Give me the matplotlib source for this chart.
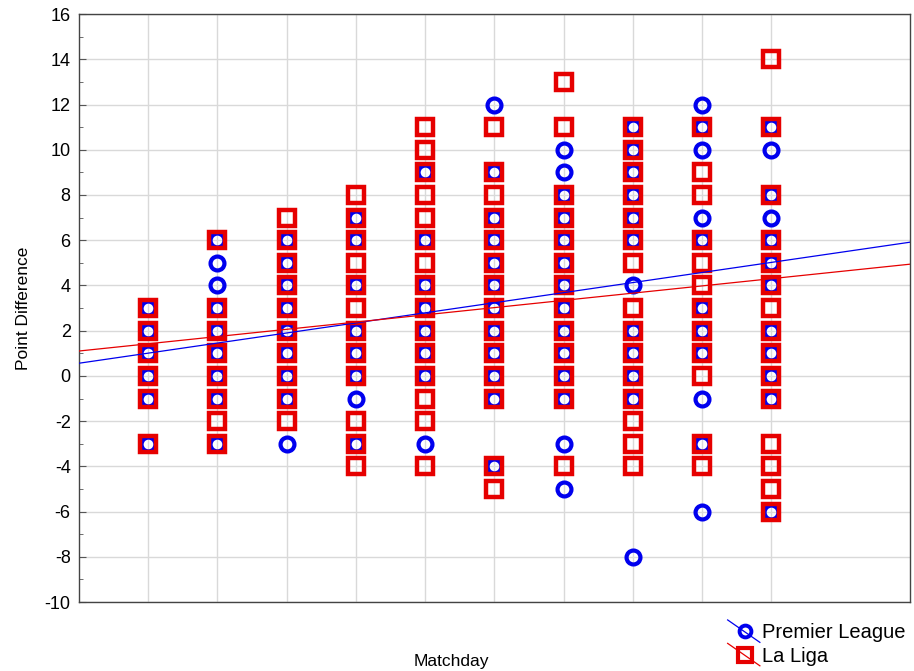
import numpy as np
import matplotlib
matplotlib.use("Agg")
import matplotlib.pyplot as plt
from matplotlib.lines import Line2D
from matplotlib.legend_handler import HandlerBase

plt.rcParams['font.family'] = ['Liberation Sans', 'DejaVu Sans']
plt.rcParams['axes.unicode_minus'] = False

matchdays = list(range(1, 11))

# Point differences per matchday
premier_league = [
    [3, 2, 1, 0, -1, -3],
    [6, 5, 4, 3, 2, 1, 0, -1, -3],
    [6, 5, 4, 3, 2, 1, 0, -1, -3],
    [7, 6, 4, 2, 1, 0, -1, -3],
    [9, 6, 4, 3, 2, 1, 0, -3],
    [12, 9, 7, 6, 5, 4, 3, 2, 1, 0, -1, -4],
    [10, 9, 8, 7, 6, 5, 4, 3, 2, 1, 0, -1, -3, -5],
    [11, 10, 9, 8, 7, 6, 4, 2, 1, 0, -1, -8],
    [12, 11, 10, 7, 6, 3, 2, 1, -1, -3, -6],
    [11, 10, 8, 7, 6, 5, 4, 2, 1, 0, -1, -6],
]
la_liga = [
    [3, 2, 1, 0, -1, -3],
    [6, 3, 2, 1, 0, -1, -2, -3],
    [7, 6, 5, 4, 3, 2, 1, 0, -1, -2],
    [8, 7, 6, 5, 4, 3, 2, 1, 0, -2, -3, -4],
    [11, 10, 9, 8, 7, 6, 5, 4, 3, 2, 1, 0, -1, -2, -4],
    [11, 9, 8, 7, 6, 5, 4, 3, 2, 1, 0, -1, -4, -5],
    [13, 11, 8, 7, 6, 5, 4, 3, 2, 1, 0, -1, -4],
    [11, 10, 9, 8, 7, 6, 5, 3, 2, 1, 0, -1, -2, -3, -4],
    [11, 9, 8, 6, 5, 4, 3, 2, 1, 0, -3, -4],
    [14, 11, 8, 6, 5, 4, 3, 2, 1, 0, -1, -3, -4, -5, -6],
]

# Linear trend (intercept, slope) for each league
pl_trend = [0.56, 0.446]
ll_trend = [1.10, 0.32]

BLUE = "#0000ee"
RED = "#e60000"


def flatten(groups):
    xs, ys = [], []
    for md, vals in zip(matchdays, groups):
        xs.extend([md] * len(vals))
        ys.extend(vals)
    return np.array(xs, float), np.array(ys, float)


pl_x, pl_y = flatten(premier_league)
ll_x, ll_y = flatten(la_liga)

fig = plt.figure(figsize=(9.14, 6.71), dpi=100)
ax = fig.add_axes([0.0864, 0.1028, 0.9092, 0.8762])

ax.plot(pl_x, pl_y, linestyle="none", marker="o", markersize=10,
        markerfacecolor="none", markeredgecolor=BLUE, markeredgewidth=3, zorder=3)
ax.plot(ll_x, ll_y, linestyle="none", marker="s", markersize=11.5,
        markerfacecolor="none", markeredgecolor=RED, markeredgewidth=3.2, zorder=4)

xfit = np.array([0.0, 12.0])
for (b, k), c in [(pl_trend, BLUE), (ll_trend, RED)]:
    ax.plot(xfit, b + k * xfit, color=c, linewidth=0.9, zorder=5)

ax.set_xlim(0, 12)
ax.set_ylim(-10, 16)
ax.set_xticks(matchdays)
ax.set_xticklabels([])
ax.set_yticks(np.arange(-10, 17, 2))
ax.set_yticks(np.arange(-9, 16, 2), minor=True)
ax.tick_params(axis="x", length=0)
ax.tick_params(axis="y", which="major", direction="in", length=5, labelsize=13,
               color="#555555", pad=6)
ax.tick_params(axis="y", which="minor", direction="in", length=3, color="#555555")
ax.grid(True, which="major", color="#d9d9d9", linewidth=1)
ax.set_axisbelow(True)
for s in ax.spines.values():
    s.set_color("#444444")
    s.set_linewidth(1)

ax.set_ylabel("Point Difference", fontsize=12.5, labelpad=10)
fig.text(0.494, 0.003, "Matchday", fontsize=12.5, ha="center", va="bottom")


class MarkerWithLine(HandlerBase):
    def __init__(self, color, marker, ms, mew):
        super().__init__()
        self.color, self.marker, self.ms, self.mew = color, marker, ms, mew

    def create_artists(self, legend, orig_handle, xdescent, ydescent, width,
                       height, fontsize, trans):
        x0, x1 = -xdescent, -xdescent + width
        y0, y1 = -ydescent, -ydescent + height
        line = Line2D([x0, x1], [y1 + 3, y0 - 3], color=self.color, linewidth=0.9,
                      transform=trans)
        mk = Line2D([x0 + width * 0.55], [(y0 + y1) / 2], marker=self.marker,
                    markersize=self.ms, markerfacecolor="none",
                    markeredgecolor=self.color, markeredgewidth=self.mew,
                    linestyle="none", transform=trans)
        return [line, mk]


h_pl = Line2D([], [], color=BLUE)
h_ll = Line2D([], [], color=RED)
fig.legend([h_pl, h_ll], ["Premier League", "La Liga"],
           handler_map={h_pl: MarkerWithLine(BLUE, "o", 8.5, 2.8),
                        h_ll: MarkerWithLine(RED, "s", 9.5, 3.0)},
           loc="lower right", bbox_to_anchor=(1.006, -0.013), frameon=False,
           fontsize=14.5, handlelength=1.6, handletextpad=0.1, labelspacing=0.22,
           borderpad=0.2)

fig.savefig("out.png", dpi=100)
